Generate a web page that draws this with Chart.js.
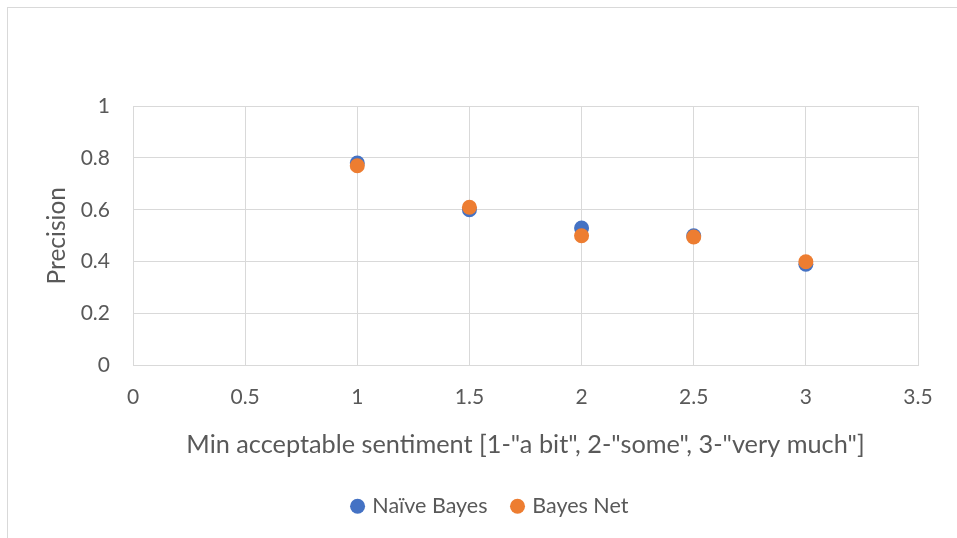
<!DOCTYPE html>
<html>
<head>
<meta charset="utf-8">
<script src="https://cdn.jsdelivr.net/npm/chart.js@4"></script>
<style>
    html, body { margin: 0; padding: 0; background: #fff; }
    #wrap { position: relative; width: 957px; height: 538px; overflow: hidden; }
    #frame { position: absolute; left: 7px; top: 7px; width: 1000px; height: 600px; border-left: 1px solid #d9d9d9; border-top: 1px solid #d9d9d9; }
    canvas { position: absolute; left: 0; top: 0; }
</style>
</head>
<body>
<div id="wrap">
    <div id="frame"></div>
    <canvas id="chart" width="957" height="538"></canvas>
</div>
<script>
const xValues = [1, 1.5, 2, 2.5, 3];
const naiveBayes = [0.78, 0.6, 0.53, 0.5, 0.39];
const bayesNet = [0.77, 0.61, 0.5, 0.495, 0.4];
const seriesNames = ['Naïve Bayes', 'Bayes Net'];
const xTitle = 'Min acceptable sentiment [1-"a bit", 2-"some", 3-"very much"]';
const yTitle = 'Precision';

const fontFamily = 'Lato, "Open Sans", sans-serif';
const textColor = '#595959';
const gridColor = '#d9d9d9';

const toPoints = (values) => xValues.map((x, i) => ({ x: x, y: values[i] }));
const plainTick = (value) => String(Number(value.toFixed(2)));

// the legend sits a little right of the canvas centre in the original
const legendShift = {
    id: 'legendShift',
    afterLayout(chart) {
        chart.legend.left += 32;
        chart.legend.right += 32;
    },
};

new Chart(document.getElementById('chart'), {
    type: 'scatter',
    data: {
        datasets: [
            {
                label: seriesNames[0],
                data: toPoints(naiveBayes),
                backgroundColor: '#4472c4',
                borderWidth: 0,
                pointRadius: 7.5,
                order: 1,
            },
            {
                label: seriesNames[1],
                data: toPoints(bayesNet),
                backgroundColor: '#ed7d31',
                borderWidth: 0,
                pointRadius: 7.5,
                order: 0,
            },
        ],
    },
    options: {
        responsive: false,
        animation: false,
        layout: { padding: { left: 0, top: 106, right: 39, bottom: 11 } },
        scales: {
            x: {
                type: 'linear',
                min: 0,
                max: 3.5,
                ticks: {
                    stepSize: 0.5,
                    padding: 21,
                    color: textColor,
                    font: { family: fontFamily, size: 21, lineHeight: 1 },
                    callback: plainTick,
                },
                grid: { color: gridColor, drawTicks: false },
                border: { color: gridColor },
                title: {
                    display: true,
                    text: xTitle,
                    color: textColor,
                    font: { family: fontFamily, size: 25.3, lineHeight: 1 },
                    padding: { top: 0, bottom: 12 },
                },
                afterFit: (scale) => {
                    scale.height = 104;
                },
            },
            y: {
                min: 0,
                max: 1,
                ticks: {
                    stepSize: 0.2,
                    padding: 23,
                    color: textColor,
                    font: { family: fontFamily, size: 21, lineHeight: 1 },
                    callback: plainTick,
                },
                grid: { color: gridColor, drawTicks: false },
                border: { color: gridColor },
                title: {
                    display: true,
                    text: yTitle,
                    color: textColor,
                    font: { family: fontFamily, size: 24.5, lineHeight: 1 },
                    padding: { top: 45, bottom: 0 },
                },
                afterFit: (scale) => {
                    scale.width = 133;
                },
            },
        },
        plugins: {
            legend: {
                position: 'bottom',
                labels: {
                    usePointStyle: true,
                    boxWidth: 8,
                    boxHeight: 10.6,
                    padding: 26,
                    color: textColor,
                    font: { family: fontFamily, size: 21.5 },
                    sort: (a, b) => a.datasetIndex - b.datasetIndex,
                },
            },
            tooltip: { enabled: false },
        },
    },
    plugins: [legendShift],
});
</script>
</body>
</html>
